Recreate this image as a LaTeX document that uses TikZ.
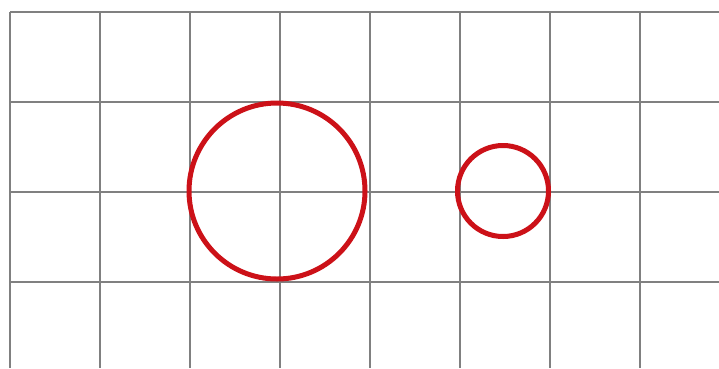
\documentclass[tikz,border=0pt]{standalone}
\usepackage{tikz}
\usepackage{xcolor}
\definecolor{GridGray}{HTML}{808080}
\definecolor{Ring}{HTML}{CC1118}

\begin{document}
\begin{tikzpicture}[x=1pt,y=-1pt,
  gridline/.style={draw=GridGray,line width=1.2pt},
  ring/.style={draw=Ring,line width=5pt}]
  \useasboundingbox[fill=white] (0,0) rectangle (719,368);
  \foreach \i in {0,...,7} \draw[gridline] (10+90*\i,12)--(10+90*\i,368);
  \foreach \j in {0,...,3} \draw[gridline] (10,12+90*\j)--(719,12+90*\j);

  \draw[ring] (277,191) circle[radius=88];
  \draw[ring] (503,191) circle[radius=45.5];
\end{tikzpicture}
\end{document}
